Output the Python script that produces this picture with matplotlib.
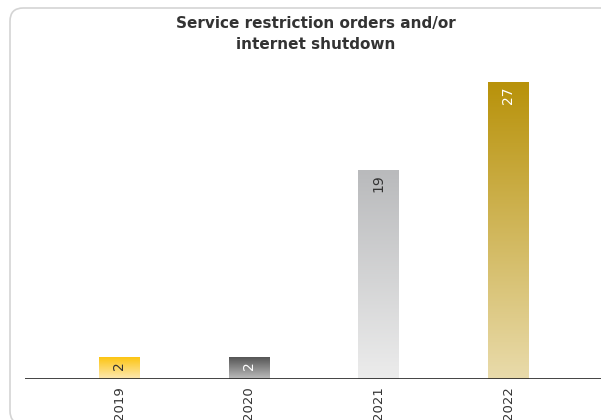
import numpy as np
import matplotlib.pyplot as plt
from matplotlib.patches import FancyBboxPatch
from matplotlib.colors import LinearSegmentedColormap

#------------------
# Data
#------------------

years = ["2019", "2020", "2021", "2022"]
orders = [2, 2, 19, 27]

# gradient (top colour, bottom colour) and label colour for each bar
top_colors = ["#fcc512", "#555555", "#b9babc", "#b8920a"]
bottom_colors = ["#fde9b4", "#bdbdbd", "#ececec", "#e9dbab"]
label_colors = ["#333333", "#ffffff", "#333333", "#ffffff"]

title = "Service restriction orders and/or\ninternet shutdown"

#------------------
# Figure
#------------------

W, H = 601, 420
fig = plt.figure(figsize=(W / 100, H / 100), dpi=100)

# rounded card behind the chart
card = FancyBboxPatch((10 / W, -4 / H), 700 / W, 416 / H,
                      boxstyle="round,pad=0,rounding_size=0.022",
                      transform=fig.transFigure, facecolor="white",
                      edgecolor="#d4d4d4", linewidth=1.2,
                      mutation_aspect=W / H, zorder=-1)
fig.patches.append(card)

ax = fig.add_axes([25 / W, 41 / H, (W - 25) / W, 319 / H])
ax.set_facecolor("none")

x = np.arange(len(years))
width = 0.31
bars = ax.bar(x, orders, width=width, color="none", edgecolor="none")

grad = np.linspace(0, 1, 256).reshape(-1, 1)
for bar, c_top, c_bot in zip(bars, top_colors, bottom_colors):
    x0, y0 = bar.get_x(), bar.get_y()
    w, h = bar.get_width(), bar.get_height()
    cmap = LinearSegmentedColormap.from_list("g", [c_top, c_bot])
    im = ax.imshow(grad, cmap=cmap, aspect="auto",
                   extent=[x0, x0 + w, y0, y0 + h], origin="upper", zorder=2)
    im.set_clip_path(bar)

for xi, v, lc in zip(x, orders, label_colors):
    ax.text(xi, v - 0.4, str(v), rotation=90, ha="center", va="top",
            fontsize=10, color=lc, zorder=3)

ax.set_xlim(-0.725, 3.716)
ax.set_ylim(0, 29)
ax.axhline(0, color="#222222", linewidth=1.2, zorder=4)

ax.set_xticks(x)
ax.set_xticklabels(years, rotation=90, fontsize=9.5, color="#333333")
ax.tick_params(axis="x", length=0, pad=5)
ax.set_yticks([])
for s in ax.spines.values():
    s.set_visible(False)

fig.text(316 / W, 1 - 34 / H, title, ha="center", va="center",
         fontsize=11, fontweight="bold", color="#333333",
         linespacing=1.5)

fig.savefig("out.png", dpi=100)
